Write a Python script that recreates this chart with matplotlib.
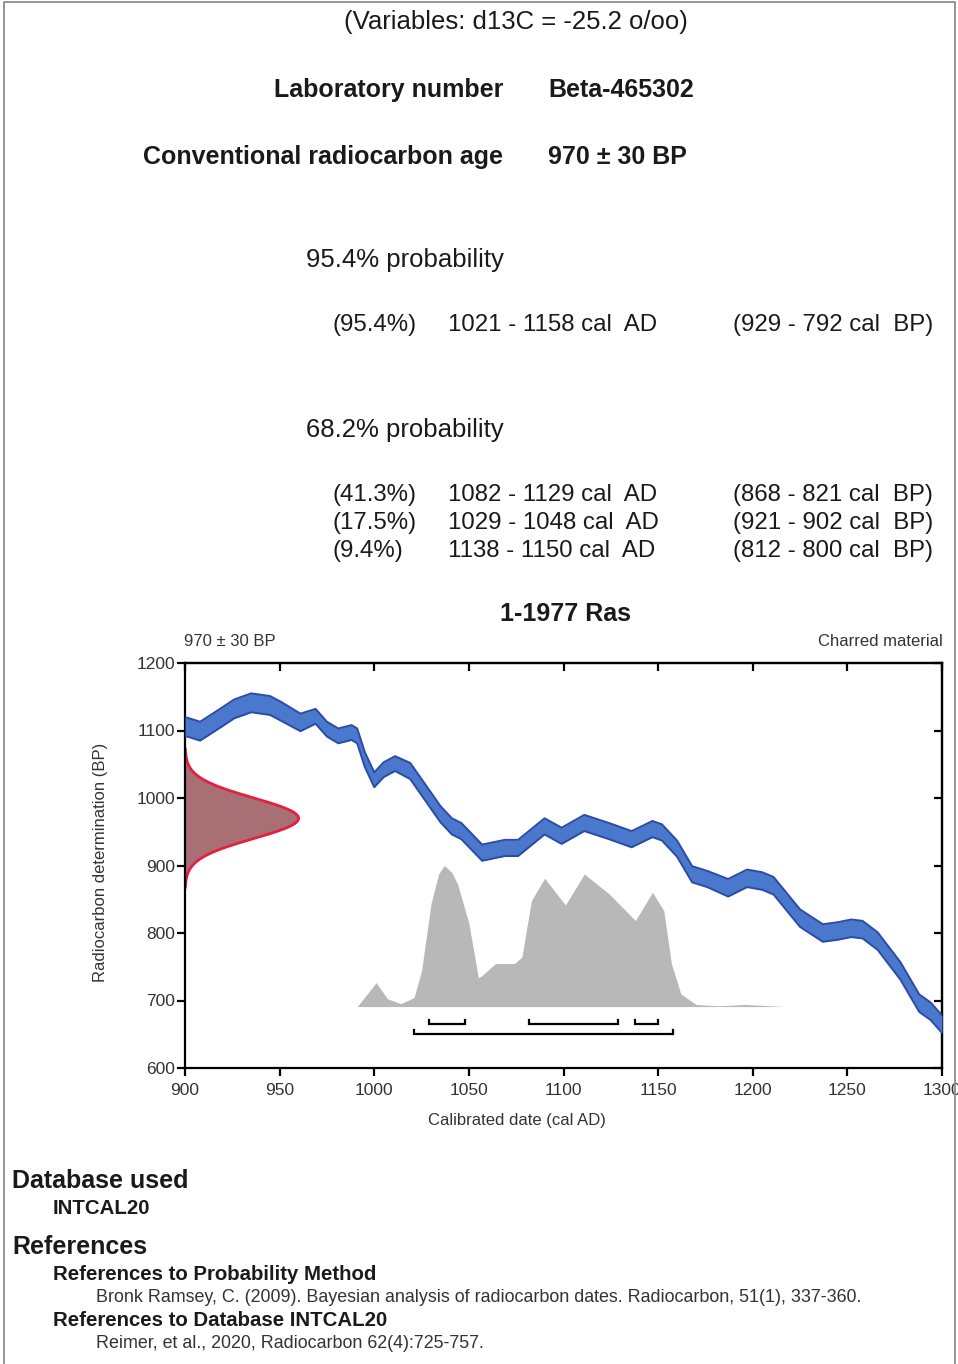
import numpy as np
import matplotlib.pyplot as plt
from matplotlib.lines import Line2D

plt.rcParams['font.family'] = ['Liberation Sans', 'DejaVu Sans']

W, H = 958, 1364

# calibration curve band (centre and half width, BP)
cal_year = [900, 908, 919, 926, 935, 945, 951, 961, 969, 975, 981, 988, 991, 995, 1000, 1005, 1011,
            1019, 1027, 1035, 1041, 1046, 1057, 1069, 1076, 1090, 1099, 1111, 1124, 1136, 1147,
            1152, 1160, 1168, 1176, 1187, 1197, 1205, 1211, 1225, 1237, 1245, 1252, 1258, 1266,
            1278, 1288, 1294, 1300]
cal_bp = [1106, 1099, 1119, 1132, 1141, 1137, 1128, 1112, 1121, 1102, 1092, 1097, 1092, 1057, 1027, 1042, 1051,
          1040, 1008, 976, 958, 951, 919, 926, 926, 958, 944, 963, 951, 939, 954,
          949, 925, 887, 880, 867, 881, 877, 870, 822, 800, 803, 807, 805, 788,
          744, 696, 684, 665]
cal_err = [14, 14, 14, 14, 14, 14, 14, 13, 11, 11, 11, 11, 11, 11, 11, 11, 11,
           12, 12, 12, 12, 12, 12, 12, 12, 12, 12, 12, 12, 12, 12,
           12, 12, 12, 12, 13, 13, 13, 13, 13, 13, 13, 13, 13, 13,
           13, 13, 13, 13]

# calibrated probability (relative height)
prob_year = [991, 1001, 1007, 1014, 1021, 1025, 1030, 1034, 1037, 1041, 1044, 1050, 1055, 1057, 1064,
             1074, 1078, 1083, 1090, 1101, 1111, 1124, 1138, 1147, 1153, 1157, 1162, 1170, 1182,
             1196, 1217]
prob_rel = [0, 0.17, 0.055, 0.02, 0.064, 0.255, 0.73, 0.94, 1.0, 0.95, 0.87, 0.59, 0.205, 0.22, 0.305,
            0.305, 0.35, 0.75, 0.91, 0.72, 0.94, 0.80, 0.61, 0.81, 0.68, 0.305, 0.09, 0.015, 0.005,
            0.015, 0]

age_bp = 970
age_err = 30

range95 = [(1021, 1158)]
range68 = [(1029, 1048), (1082, 1129), (1138, 1150)]

rows95 = [("(95.4%)", "1021 - 1158 cal  AD", "(929 - 792 cal  BP)")]
rows68 = [("(41.3%)", "1082 - 1129 cal  AD", "(868 - 821 cal  BP)"),
          ("(17.5%)", "1029 - 1048 cal  AD", "(921 - 902 cal  BP)"),
          ("(9.4%)", "1138 - 1150 cal  AD", "(812 - 800 cal  BP)")]

xticks = [900, 950, 1000, 1050, 1100, 1150, 1200, 1250, 1300]
yticks = [600, 700, 800, 900, 1000, 1100, 1200]

fig = plt.figure(figsize=(W / 100, H / 100), dpi=100)
fig.patch.set_facecolor('white')


def ftext(x, y, s, **kw):
    kw.setdefault('va', 'center')
    kw.setdefault('color', '#1a1a1a')
    fig.text(x / W, 1 - y / H, s, **kw)


# page frame
fig.add_artist(Line2D([4 / W, 4 / W, 955 / W, 955 / W], [0, 1 - 2 / H, 1 - 2 / H, 0],
                      transform=fig.transFigure, color='#8c8c8c', lw=1.3))

# header
ftext(516, 22, "(Variables: d13C = -25.2 o/oo)", ha='center', fontsize=18.5)
ftext(503, 90, "Laboratory number", ha='right', fontsize=18, fontweight='bold')
ftext(548, 90, "Beta-465302", ha='left', fontsize=18, fontweight='bold')
ftext(503, 157, "Conventional radiocarbon age", ha='right', fontsize=18, fontweight='bold')
ftext(548, 157, "970 \u00b1 30 BP", ha='left', fontsize=18, fontweight='bold')

ftext(306, 260, "95.4% probability", fontsize=18.5)
for i, (p, ad, bp) in enumerate(rows95):
    y = 325 + i * 28
    ftext(333, y, p, fontsize=17.3)
    ftext(448, y, ad, fontsize=17.3)
    ftext(733, y, bp, fontsize=17.3)

ftext(306, 430, "68.2% probability", fontsize=18.5)
for i, (p, ad, bp) in enumerate(rows68):
    y = 495 + i * 28
    ftext(333, y, p, fontsize=17.3)
    ftext(448, y, ad, fontsize=17.3)
    ftext(733, y, bp, fontsize=17.3)

ftext(565, 614, "1-1977 Ras", ha='center', fontsize=18, fontweight='bold')
ftext(184, 641, "970 \u00b1 30 BP", ha='left', fontsize=12, color='#333333')
ftext(943, 641, "Charred material", ha='right', fontsize=12, color='#333333')

# chart
ax = fig.add_axes([185 / W, 1 - 1068 / H, (942 - 185) / W, (1068 - 663) / H])
ax.set_xlim(900, 1300)
ax.set_ylim(600, 1200)

# calibrated probability
base = 691
scale = 209
py = base + np.array(prob_rel) * scale
ax.fill_between(prob_year, base, py, color='#b8b8b8', lw=0, zorder=1)

# measured age distribution on the y axis
bp = np.linspace(age_bp - 3.4 * age_err, age_bp + 3.4 * age_err, 200)
g = np.exp(-0.5 * ((bp - age_bp) / age_err) ** 2)
gx = 900 + g * 60
ax.fill_betweenx(bp, 900, gx, color='#a87075', lw=0, zorder=2)
ax.plot(gx, bp, color='#e3203f', lw=2, zorder=2)

# calibration curve
cy = np.array(cal_bp)
ce = np.array(cal_err)
ax.fill_between(cal_year, cy - ce, cy + ce, color='#4a78cc', lw=0, zorder=3)
ax.plot(cal_year, cy + ce, color='#2b4ba6', lw=1.4, zorder=3, solid_joinstyle='round')
ax.plot(cal_year, cy - ce, color='#2b4ba6', lw=1.4, zorder=3, solid_joinstyle='round')

# range brackets
for rng, yb in ((range68, 665), (range95, 651)):
    for a, b in rng:
        ax.plot([a, a, b, b], [yb + 6, yb, yb, yb + 6], color='black', lw=1.6,
                solid_joinstyle='miter', zorder=4)

for s in ax.spines.values():
    s.set_linewidth(1.6)
ax.set_xticks(xticks)
ax.set_yticks(yticks)
ax.tick_params(direction='out', length=6, width=1.6, labelsize=12.5,
               labelcolor='#333333')
ax.tick_params(axis='x', pad=5)
ax.tick_params(axis='y', pad=1)

top = ax.secondary_xaxis('top')
top.set_xticks(xticks)
top.tick_params(direction='in', length=6, width=1.6, labeltop=False)
top.spines['top'].set_linewidth(1.6)
right = ax.secondary_yaxis('right')
right.set_yticks(yticks)
right.tick_params(direction='in', length=6, width=1.6, labelright=False)
right.spines['right'].set_linewidth(1.6)

ftext(517, 1120, "Calibrated date (cal AD)", ha='center', fontsize=12, color='#333333')
ftext(100, 862, "Radiocarbon determination (BP)", ha='center', rotation=90,
      fontsize=12, color='#333333')

# footer
ftext(12, 1181, "Database used", fontsize=18, fontweight='bold')
ftext(53, 1209, "INTCAL20", fontsize=14.7, fontweight='bold')
ftext(12, 1247, "References", fontsize=18, fontweight='bold')
ftext(53, 1274, "References to Probability Method", fontsize=14.7, fontweight='bold')
ftext(96, 1298, "Bronk Ramsey, C. (2009). Bayesian analysis of radiocarbon dates. Radiocarbon, 51(1), 337-360.",
      fontsize=12.9, color='#333333')
ftext(53, 1320, "References to Database INTCAL20", fontsize=14.7, fontweight='bold')
ftext(96, 1343, "Reimer, et al., 2020, Radiocarbon 62(4):725-757.",
      fontsize=12.9, color='#333333')

fig.savefig('out.png', dpi=100)
